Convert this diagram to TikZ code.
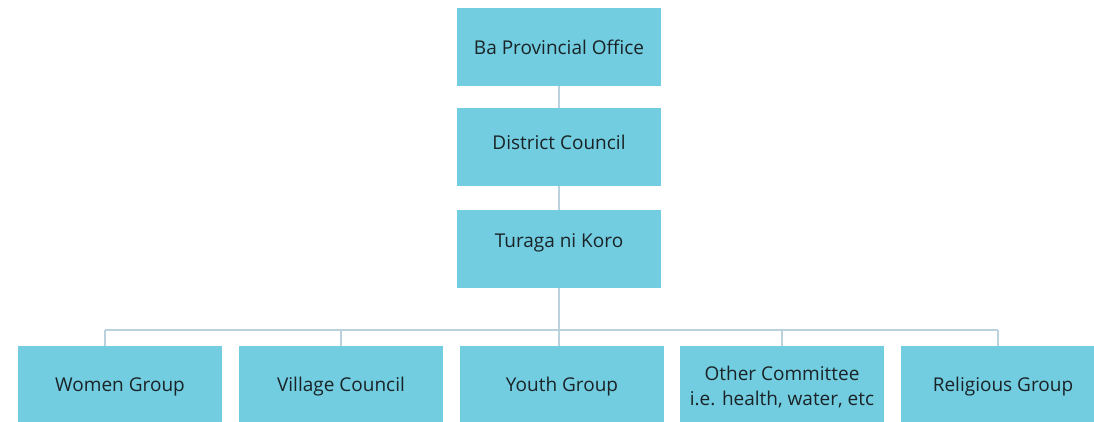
\documentclass[tikz,border=0pt]{standalone}
\usepackage{fontspec}
\setmainfont{Open Sans}
\usepackage{xcolor}
\definecolor{boxcyan}{HTML}{72CDE0}
\definecolor{linkgray}{HTML}{BAD2DD}
\definecolor{inkdark}{HTML}{1A2327}
\newcommand{\lift}[2]{\raisebox{#1}[\height][\depth]{#2}}

\begin{document}
\begin{tikzpicture}[x=1pt, y=-1pt,
  unit/.style={fill=boxcyan, text=inkdark, minimum width=204pt, minimum height=78pt,
    inner sep=0pt, align=center, font=\fontsize{19}{25}\selectfont},
  member/.style={unit, minimum height=82pt},
  link/.style={linkgray, line width=2pt}]
  \useasboundingbox (0, 0) rectangle (1094, 421);
  \node [unit] (PO) at (559, 46.8) {\lift{-1pt}{Ba Provincial Office}};
  \node [unit] (DC) at (559, 146.7) {\lift{4pt}{District Council}};
  \node [unit] (TK) at (559, 248.8) {\lift{6pt}{Turaga ni Koro}};
  % bottom row runs past the lower edge
  \node [member] (WG) at (120, 387) {Women Group};
  \node [member] (VC) at (341, 387) {Village Council};
  \node [member] (YG) at (562, 387) {Youth Group};
  \node [member] (OC) at (782, 387) {Other Committee\\i.e. health, water, etc};
  \node [member] (RG) at (1003, 387) {Religious Group};
  \coordinate (BL) at (105, 330);
  \coordinate (BR) at (998, 330);
  \draw [link] (PO) -- (DC);
  \draw [link] (DC) -- (TK);
  \draw [link] (TK.south) -- (TK.south |- YG.north);
  \draw [link] (BL) -- (BR);
  \draw [link] (BL) -- (BL |- WG.north);
  \draw [link] (VC.north |- BL) -- (VC.north);
  \draw [link] (OC.north |- BL) -- (OC.north);
  \draw [link] (BR) -- (BR |- RG.north);
\end{tikzpicture}
\end{document}
